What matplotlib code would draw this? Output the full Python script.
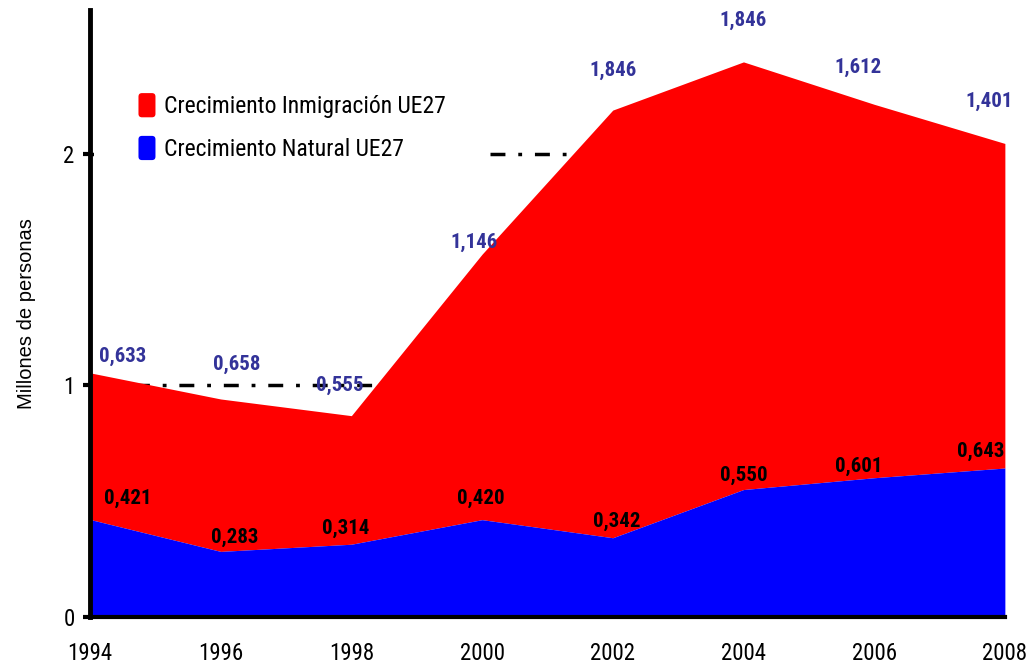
import matplotlib.pyplot as plt
from matplotlib.patches import Patch, FancyBboxPatch
from matplotlib.legend_handler import HandlerPatch

# Datos (millones de personas)
anios = [1994, 1996, 1998, 2000, 2002, 2004, 2006, 2008]
natural = [0.421, 0.283, 0.314, 0.420, 0.342, 0.550, 0.601, 0.643]
inmigracion = [0.633, 0.658, 0.555, 1.146, 1.846, 1.846, 1.612, 1.401]

# Posicion de las etiquetas de valor (desplazamientos en años / millones)
inm_dx = [0.5, 0.25, -0.18, -0.12, 0.0, 0.0, -0.25, -0.24]
inm_dy = [0.07, 0.15, 0.13, 0.05, 0.17, 0.18, 0.16, 0.18]
nat_dx = [0.58, 0.22, -0.08, -0.02, 0.06, 0.0, -0.23, -0.37]
nat_dy = [0.09, 0.06, 0.07, 0.09, 0.07, 0.06, 0.05, 0.07]

fuente = ['Roboto Condensed', 'Liberation Sans', 'DejaVu Sans']
plt.rcParams['font.family'] = fuente

fig = plt.figure(figsize=(10.28, 6.67), dpi=100)
ax = fig.add_axes([0.0875, 0.075, 0.89, 0.91])

total = [n + i for n, i in zip(natural, inmigracion)]

# Lineas guia punto-raya
for yv in [1, 2]:
    ax.axhline(yv, color='black', lw=2.5, linestyle=(0, (4.3, 3.7, 1.1, 3.7)), zorder=0)

ax.fill_between(anios, 0, natural, color='#0000ff', lw=0, zorder=2)
ax.fill_between(anios, natural, total, color='#ff0000', lw=0, zorder=1)

for x, t, v, dx, dy in zip(anios, total, inmigracion, inm_dx, inm_dy):
    ax.text(x + dx, t + dy, f'{v:.3f}'.replace('.', ','), color='#333399',
            fontsize=15, fontweight='bold', ha='center', va='center', zorder=4)
for x, n, dx, dy in zip(anios, natural, nat_dx, nat_dy):
    ax.text(x + dx, n + dy, f'{n:.3f}'.replace('.', ','), color='black',
            fontsize=15, fontweight='bold', ha='center', va='center', zorder=4)

ax.set_xlim(1994, 2008)
ax.set_ylim(0, 2.62)
ax.set_xticks(anios)
ax.set_xticklabels([str(a) for a in anios], fontsize=16.5)
ax.set_yticks([0, 1, 2])
ax.set_yticklabels(['0', '1', '2'], fontsize=16.5)
ax.tick_params(axis='x', length=0, pad=18)
ax.tick_params(axis='y', length=5, width=3, direction='out', pad=6)

for s in ['top', 'right']:
    ax.spines[s].set_visible(False)
ax.spines['left'].set_linewidth(3.5)
ax.spines['left'].set_zorder(5)
ax.spines['bottom'].set_linewidth(3)
ax.spines['bottom'].set_zorder(5)

ax.set_ylabel('Millones de personas', fontsize=14.5, family='Liberation Sans', labelpad=20)


# cuadritos redondeados de la leyenda
def cuadro_redondo(legend, orig_handle, xdescent, ydescent, width, height, fontsize):
    return FancyBboxPatch((-xdescent, -ydescent), width, height,
                          boxstyle='round,pad=0,rounding_size=2.5')


handles = [Patch(facecolor='#ff0000', label='Crecimiento Inmigración UE27'),
           Patch(facecolor='#0000ff', label='Crecimiento Natural UE27')]
leg = ax.legend(handles=handles, loc='upper left', bbox_to_anchor=(0.004, 0.5, 0.4256, 0.437),
                mode='expand', fontsize=17, frameon=True, facecolor='white', edgecolor='none',
                framealpha=1, handlelength=0.72, handleheight=1.2, handletextpad=0.35,
                labelspacing=0.75, borderaxespad=0, borderpad=1.9, fancybox=False,
                handler_map={Patch: HandlerPatch(patch_func=cuadro_redondo)})
leg.set_zorder(3)

plt.savefig('out.png', dpi=100)
